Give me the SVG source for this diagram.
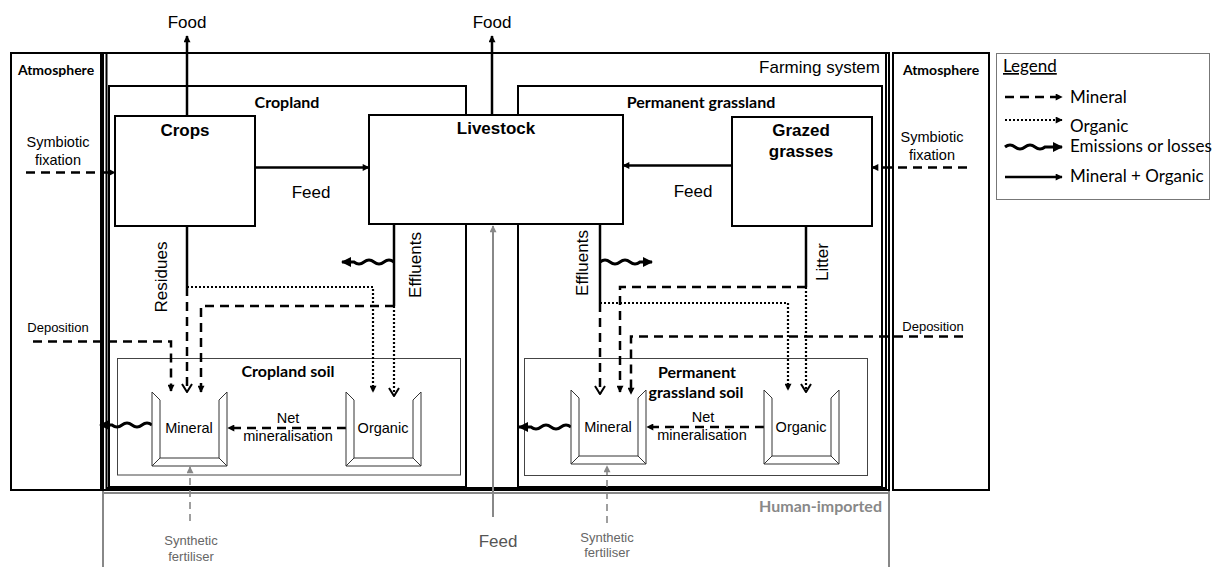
<svg xmlns="http://www.w3.org/2000/svg" width="1212" height="567" viewBox="0 0 1212 567">
<defs>
<style>
.box{fill:#fff;stroke:#000;stroke-width:2}
.nf{fill:none;stroke:#000;stroke-width:2}
.soil{fill:none;stroke:#444;stroke-width:1}
.solid{fill:none;stroke:#000;stroke-width:2.5}
.dash{fill:none;stroke:#000;stroke-width:2.5;stroke-dasharray:9 6}
.dot{fill:none;stroke:#000;stroke-width:2.2;stroke-dasharray:2 2}
.wave{fill:none;stroke:#000;stroke-width:3;filter:url(#soft)}
.gsolid{fill:none;stroke:#888;stroke-width:2}
.gdash{fill:none;stroke:#888;stroke-width:1.6;stroke-dasharray:7 5}
.gline{fill:none;stroke:#888;stroke-width:2}
.bucket path{fill:none;stroke:#333;stroke-width:1}
.bucket .bg{fill:#fff;stroke:none}
text{font-family:"Liberation Sans",Arial,sans-serif;fill:#000}
.t17{font-size:17px}
.b17{font-size:17px;font-weight:bold}
.sm{font-size:14.5px}
.dep{font-size:13px}
.cal{font-family:Lato,"Liberation Sans",sans-serif;font-weight:bold}
.leg{font-family:Lato,"Liberation Sans",sans-serif;font-size:17px}
.mid{text-anchor:middle}
.gt{fill:#666}
</style>
<filter id="soft" x="-20%" y="-100%" width="140%" height="300%"><feGaussianBlur stdDeviation="0.6"/></filter>
<marker id="ah" viewBox="0 0 10 10" refX="9" refY="5" markerWidth="8" markerHeight="7" markerUnits="userSpaceOnUse" orient="auto"><path d="M0,0 L10,5 L0,10 z" fill="#000"/></marker>
<marker id="ahg" viewBox="0 0 10 10" refX="9" refY="5" markerWidth="8" markerHeight="7" markerUnits="userSpaceOnUse" orient="auto"><path d="M0,0 L10,5 L0,10 z" fill="#888"/></marker>
<marker id="ahw" viewBox="0 0 10 10" refX="9" refY="5" markerWidth="11" markerHeight="10" markerUnits="userSpaceOnUse" orient="auto"><path d="M0,0 L10,5 L0,10 z" fill="#000"/></marker>
<marker id="av" viewBox="0 0 10 12" refX="9" refY="6" markerWidth="10" markerHeight="12" markerUnits="userSpaceOnUse" orient="auto"><path d="M1,1 L9,6 L1,11" fill="none" stroke="#000" stroke-width="2"/></marker>
<g id="bk" class="bucket">
<path class="bg" d="M0,0 L8,8 L8,66 L67,66 L67,8 L75,0 L75,74 L0,74 z"/>
<path d="M0,0 V74 H75 V0"/>
<path d="M8,8 V66 H67 V8"/>
<path d="M0,0 L8,8 M75,0 L67,8 M0,74 L8,66 M75,74 L67,66"/>
</g>
</defs>
<rect width="1212" height="567" fill="#fff"/>

<!-- Human-imported region (gray) -->
<g id="human-imported">
<path class="gline" d="M103,490 V567 M889,490 V567 M103,493 H889"/>
<text class="cal" x="882" y="512" font-size="16" text-anchor="end" style="fill:#888">Human-imported</text>
</g>

<!-- Atmosphere boxes -->
<g id="atmosphere-left">
<rect class="box" x="11" y="53" width="90" height="437"/>
<text class="cal mid" x="56" y="75" font-size="14">Atmosphere</text>
</g>
<g id="atmosphere-right">
<rect class="box" x="893" y="53" width="96" height="437"/>
<text class="cal mid" x="941" y="75" font-size="14">Atmosphere</text>
</g>

<!-- Farming system -->
<g id="farming-system">
<rect class="nf" x="103" y="53" width="786" height="437"/>
<path class="nf" d="M106.5,53 V488 H886 V53" stroke-width="1.5"/>
<text class="t17" x="880" y="73" text-anchor="end">Farming system</text>
</g>

<!-- Cropland -->
<g id="cropland">
<rect class="nf" x="109" y="86" width="357" height="401"/>
<text class="cal mid" x="287" y="108" font-size="16">Cropland</text>
</g>
<g id="grassland">
<rect class="nf" x="518" y="86" width="364" height="401"/>
<text class="cal mid" x="701" y="108" font-size="16">Permanent grassland</text>
</g>

<!-- Soil boxes -->
<g id="cropland-soil">
<rect class="soil" x="117.5" y="358.5" width="343" height="116.5"/>
<text class="cal mid" x="288" y="377" font-size="16">Cropland soil</text>
</g>
<g id="grassland-soil">
<rect class="soil" x="524.5" y="358.5" width="343" height="117"/>
<text class="cal mid" x="697" y="378" font-size="16">Permanent</text>
<text class="cal mid" x="696" y="398" font-size="16">grassland soil</text>
</g>

<!-- Connectors -->
<g id="connectors">
<path class="solid" d="M187,116 V36" marker-end="url(#ah)"/>
<path class="solid" d="M492,115 V36" marker-end="url(#ah)"/>
<path class="dash" d="M26,172.5 H115" marker-end="url(#ah)"/>
<path class="dash" d="M967,167.5 H872" marker-end="url(#ah)"/>
<path class="solid" d="M255,167.5 H369" marker-end="url(#ah)"/>
<path class="solid" d="M732,165.5 H623" marker-end="url(#ah)"/>
<!-- cropland lower -->
<path class="solid" d="M187,226 V287"/>
<path class="dot" d="M187,287 H373 V392" marker-end="url(#ah)"/>
<path class="dash" d="M187,287 V392" marker-end="url(#av)"/>
<path class="solid" d="M394,224 V306"/>
<path class="dash" d="M394,306 H201 V392" marker-end="url(#ah)"/>
<path class="dot" d="M394,306 V396" marker-end="url(#av)"/>
<path class="wave" d="M394,262 q-5,-4 -10,0 t-10,0 t-10,0 t-10,0 l-12,0" marker-end="url(#ahw)"/>
<path class="dash" d="M33,341.5 H171 V391" marker-end="url(#ah)"/>
<path class="dash" d="M346,428 H228" marker-end="url(#ah)"/>
<path class="wave" d="M152,425 q-5,-4 -10,0 t-10,0 t-10,0 t-10,0 l-12,0" marker-end="url(#ahw)"/>
<path class="gdash" d="M190,521 V467" marker-end="url(#ahg)"/>
<!-- grassland lower -->
<path class="solid" d="M600,224 V303"/>
<path class="wave" d="M600,262 q5,-4 10,0 t10,0 t10,0 t10,0 l12,0" marker-end="url(#ahw)"/>
<path class="dot" d="M600,303 H788 V390" marker-end="url(#ah)"/>
<path class="dash" d="M600,303 V394" marker-end="url(#av)"/>
<path class="solid" d="M806,226 V287"/>
<path class="dash" d="M806,287 H620 V392" marker-end="url(#ah)"/>
<path class="dot" d="M806,287 V392" marker-end="url(#av)"/>
<path class="dash" d="M963,336.5 H631 V394" marker-end="url(#ah)"/>
<path class="dash" d="M764,427 H647" marker-end="url(#ah)"/>
<path class="wave" d="M571,427 q-5,-4 -10,0 t-10,0 t-10,0 t-10,0 l-12,0" marker-end="url(#ahw)"/>
<path class="gdash" d="M607,523 V466" marker-end="url(#ahg)"/>
<!-- imported feed -->
<path class="gsolid" d="M493,517 V226" marker-end="url(#ahg)"/>
</g>

<!-- Nodes -->
<g id="crops">
<rect class="box" x="115" y="116" width="140" height="110"/>
<text class="b17 mid" x="185" y="136">Crops</text>
</g>
<g id="livestock">
<rect class="box" x="369" y="115" width="254" height="109"/>
<text class="b17 mid" x="496" y="134">Livestock</text>
</g>
<g id="grazed-grasses">
<rect class="box" x="732" y="117" width="140" height="109"/>
<text class="b17 mid" x="801" y="136">Grazed</text>
<text class="b17 mid" x="801" y="157">grasses</text>
</g>
<g id="crop-mineral-pool">
<use href="#bk" x="152" y="392"/>
<text class="sm mid" x="189" y="433">Mineral</text>
</g>
<g id="crop-organic-pool">
<use href="#bk" x="346" y="392"/>
<text class="sm mid" x="383" y="433">Organic</text>
</g>
<g id="grass-mineral-pool">
<use href="#bk" x="571" y="390"/>
<text class="sm mid" x="608" y="432">Mineral</text>
</g>
<g id="grass-organic-pool">
<use href="#bk" x="764" y="390"/>
<text class="sm mid" x="801" y="432">Organic</text>
</g>

<!-- Labels -->
<g id="labels">
<text class="t17 mid" x="187" y="28">Food</text>
<text class="t17 mid" x="492" y="28">Food</text>
<text class="sm mid" x="58" y="146.5">Symbiotic</text>
<text class="sm mid" x="58" y="165">fixation</text>
<text class="sm mid" x="932" y="142">Symbiotic</text>
<text class="sm mid" x="932" y="159.5">fixation</text>
<text class="t17 mid" x="311" y="198">Feed</text>
<text class="t17 mid" x="693" y="197">Feed</text>
<text class="t17 mid" transform="translate(166.5,277) rotate(-90)">Residues</text>
<text class="t17 mid" transform="translate(420.5,265) rotate(-90)">Effluents</text>
<text class="t17 mid" transform="translate(588.3,263) rotate(-90)">Effluents</text>
<text class="t17 mid" transform="translate(828,262) rotate(-90)">Litter</text>
<text class="dep mid" x="58" y="332">Deposition</text>
<text class="dep mid" x="933" y="330.5">Deposition</text>
<text class="sm mid" x="288" y="422.5">Net</text>
<text class="sm mid" x="288" y="440.5">mineralisation</text>
<text class="sm mid" x="703" y="421.5">Net</text>
<text class="sm mid" x="702" y="440">mineralisation</text>
<text class="dep mid gt" x="191" y="545">Synthetic</text>
<text class="dep mid gt" x="191" y="561">fertiliser</text>
<text class="dep mid gt" x="607" y="541.5">Synthetic</text>
<text class="dep mid gt" x="607" y="557">fertiliser</text>
<text class="t17 mid" x="498" y="547" style="fill:#555">Feed</text>
</g>

<!-- Legend -->
<g id="legend">
<rect x="996.5" y="53.5" width="213" height="146" fill="none" stroke="#777" stroke-width="1"/>
<text class="leg" x="1003" y="72" text-decoration="underline">Legend</text>
<path class="dash" d="M1005,97 H1062" marker-end="url(#ah)"/>
<text class="leg" x="1070" y="103">Mineral</text>
<path class="dot" d="M1005,120 H1062" marker-end="url(#ah)"/>
<text class="leg" x="1070" y="132">Organic</text>
<path class="wave" d="M1005,147 q5,-4 10,0 t10,0 t10,0 t10,0 l17,0" marker-end="url(#ahw)"/>
<text class="leg" x="1070" y="152">Emissions or losses</text>
<path class="solid" d="M1005,177 H1062" marker-end="url(#ah)"/>
<text class="leg" x="1070" y="182">Mineral + Organic</text>
</g>
</svg>
